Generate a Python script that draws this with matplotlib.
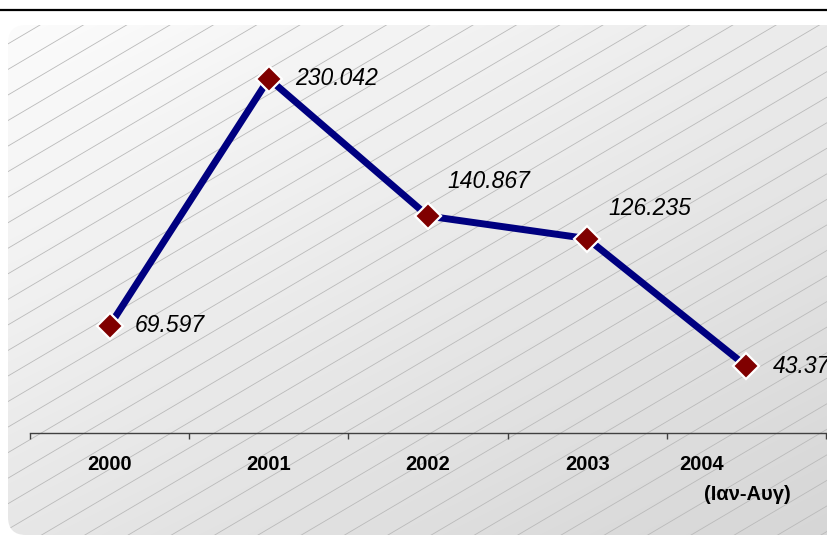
import numpy as np
import matplotlib
matplotlib.use("Agg")
import matplotlib.pyplot as plt
from matplotlib.patches import FancyBboxPatch
from matplotlib.lines import Line2D
import matplotlib.transforms as mtransforms

# ---- data ----
years = ["2000", "2001", "2002", "2003", "2004"]
values = [69.597, 230.042, 140.867, 126.235, 43.37]
value_labels = ["69.597", "230.042", "140.867", "126.235", "43.37"]
sub_label_2004 = "(Ιαν-Αυγ)"

plt.rcParams['font.family'] = ['Liberation Sans', 'DejaVu Sans']

W, H = 828, 536
fig = plt.figure(figsize=(W / 100, H / 100), dpi=100)
fig.patch.set_facecolor('white')

# ---- background panel (pixel coordinates) ----
bg = fig.add_axes([0, 0, 1, 1])
bg.set_xlim(0, W)
bg.set_ylim(H, 0)
bg.axis('off')

panel = FancyBboxPatch((8, 25), 880, 510, boxstyle="round,pad=0,rounding_size=18",
                       facecolor='none', edgecolor='none')
bg.add_patch(panel)

yy, xx = np.mgrid[0:H, 0:W]
grad = 253 - 17 * (xx / W) - 22 * (yy / H)
grad = np.clip(grad / 255.0, 0, 1)
img = bg.imshow(np.dstack([grad, grad, grad]), extent=(0, W, H, 0), aspect='auto',
                interpolation='bilinear', zorder=0)
img.set_clip_path(panel)

slope = 0.59
spacing = 43.3
for k in range(-5, 60):
    x0 = 40 + spacing * k
    xs = np.array([-50, W + 50])
    ys = 25 - slope * (xs - x0)
    ln = Line2D(xs, ys, color='#bababa', lw=0.6, zorder=1)
    bg.add_line(ln)
    ln.set_clip_path(panel)

# top rule
bg.add_line(Line2D([0, W], [10, 10], color='black', lw=1.6, zorder=2))

# ---- main axes ----
left = 30 / W
width = 796 / W
bottom = (H - 433) / H
ymax = 260
height = ymax * 1.54 / H
ax = fig.add_axes([left, bottom, width, height])
ax.set_facecolor('none')
x = np.arange(len(years))
ax.set_xlim(-0.5, len(years) - 0.5)
ax.set_ylim(0, ymax)

ax.plot(x, values, color='#000080', lw=5, zorder=3, solid_capstyle='butt')
ax.plot(x, values, linestyle='none', marker='D', markersize=13,
        markerfacecolor='#800000', markeredgecolor='white', markeredgewidth=1.6,
        zorder=4)

for sp in ['top', 'right', 'left']:
    ax.spines[sp].set_visible(False)
ax.spines['bottom'].set_color('#404040')
ax.spines['bottom'].set_linewidth(1.0)
ax.set_yticks([])
ax.set_xticks(np.arange(-0.5, len(years), 1.0))
ax.set_xticklabels([])
ax.tick_params(axis='x', direction='out', length=4.5, width=1.0, color='#404040')

# value labels (offsets in points)
offsets = [(18, 0), (19, 0), (14, 25), (15, 22), (19, 0)]
for xi, v, lab, off in zip(x, values, value_labels, offsets):
    ax.annotate(lab, (xi, v), xytext=off, textcoords='offset points',
                ha='left', va='center', fontsize=16.5, fontstyle='italic',
                color='black', zorder=5, annotation_clip=False)

# category labels
trans = mtransforms.blended_transform_factory(ax.transData, ax.transAxes)
for i, yr in enumerate(years):
    dx = 0 if i < len(years) - 1 else -32
    ax.annotate(yr, (i, 0), xycoords=trans, xytext=(dx, -23), textcoords='offset points',
                ha='center', va='center', fontsize=14.5, fontweight='bold',
                annotation_clip=False)
ax.annotate(sub_label_2004, (len(years) - 1, 0), xycoords=trans, xytext=(1, -44.5),
            textcoords='offset points', ha='center', va='center', fontsize=14.5,
            fontweight='bold', annotation_clip=False)

fig.savefig('out.png', dpi=100)
